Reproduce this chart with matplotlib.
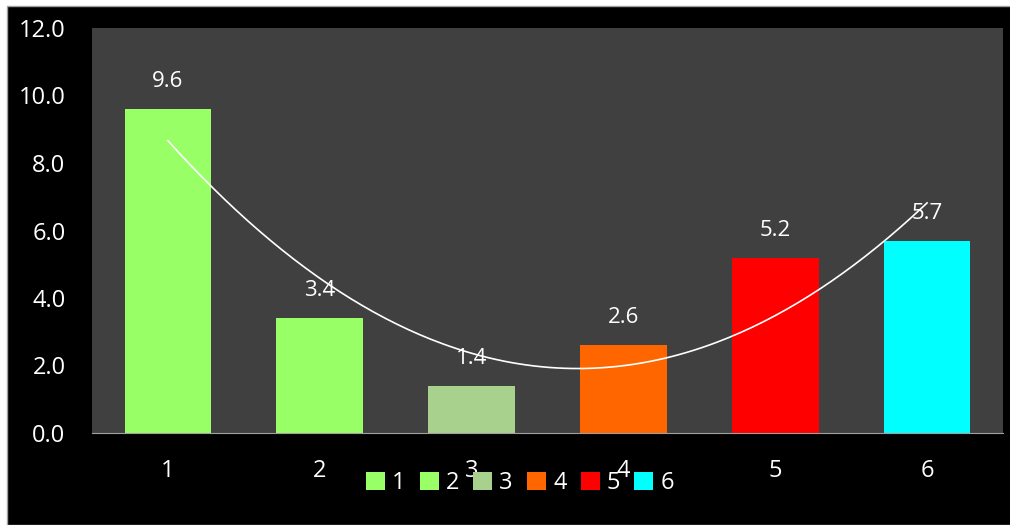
import matplotlib.pyplot as plt
from matplotlib.patches import Patch, Rectangle
import numpy as np

cats = ["1", "2", "3", "4", "5", "6"]
vals = [9.6, 3.4, 1.4, 2.6, 5.2, 5.7]
cols = ["#99ff66", "#99ff66", "#a9d18e", "#ff6600", "#ff0000", "#00ffff"]

plt.rcParams['font.family'] = ['Open Sans', 'DejaVu Sans']

fig = plt.figure(figsize=(10.1, 5.25), dpi=100)
fig.patch.set_facecolor("white")
# black chart area with thin border
fig.patches.append(Rectangle((7 / 1010, 0), 1, 1 - 6 / 525, transform=fig.transFigure,
                             facecolor="black", edgecolor="#a0a0a0", linewidth=1, zorder=-1))

ax = fig.add_axes([92 / 1010, 1 - 433 / 525, 911 / 1010, 405 / 525])
ax.set_facecolor("#404040")

x = np.arange(1, len(cats) + 1)
ax.bar(x, vals, width=0.57, color=cols, zorder=2)
for xi, v in zip(x, vals):
    ax.text(xi, v + 0.5, f"{v:.1f}", ha="center", va="bottom", color="white", fontsize=16, zorder=4)

# polynomial trendline (order 2)
p = np.polyfit(x, vals, 2)
xs = np.linspace(1, 6, 200)
ax.plot(xs, np.polyval(p, xs), color="white", linewidth=1.2, zorder=3)

ax.set_xlim(0.5, 6.5)
ax.set_ylim(0, 12)
ax.set_yticks(np.arange(0, 12.1, 2))
ax.set_yticklabels([f"{t:.1f}" for t in np.arange(0, 12.1, 2)])
ax.set_xticks(x)
ax.set_xticklabels(cats)
ax.tick_params(colors="white", labelsize=17, length=0)
ax.tick_params(axis="x", pad=19)
ax.tick_params(axis="y", pad=19)
for s in ["top", "right", "left"]:
    ax.spines[s].set_visible(False)
ax.spines["bottom"].set_color("#a0a0a0")

handles = [Patch(facecolor=c, label=l) for c, l in zip(cols, cats)]
leg = fig.legend(handles=handles, loc="center", bbox_to_anchor=(520 / 1010, 1 - 483 / 525),
                 ncol=6, frameon=False, fontsize=17, handlelength=0.8, handleheight=0.8,
                 handletextpad=0.3, columnspacing=0.6)
for t in leg.get_texts():
    t.set_color("white")

fig.savefig("out.png", dpi=100, facecolor=fig.get_facecolor())
